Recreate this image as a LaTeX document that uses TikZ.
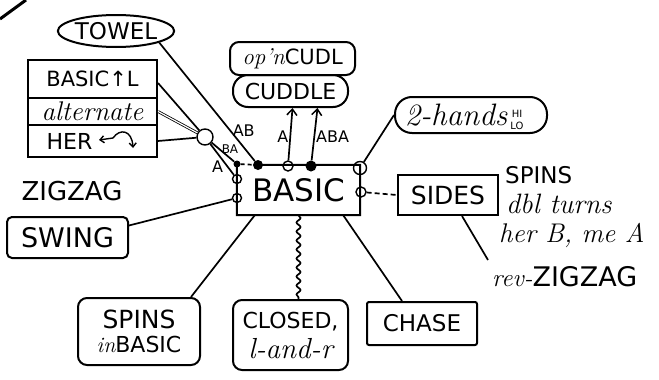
\documentclass[tikz,border=0pt]{standalone}
\usepackage{fontspec}
\newfontfamily\hand{DejaVu Sans}
\usetikzlibrary{shapes.geometric,arrows.meta,decorations.pathmorphing,calc}
\newcommand\fsz[1]{\fontsize{#1}{#1}\selectfont}
\newcommand\curs{\rmfamily\itshape}
\begin{document}
\begin{tikzpicture}[x=1pt,y=-1pt,
 boxr/.style={draw, line width=2pt, rounded corners=#1, inner sep=0pt, align=center},
 boxr/.default=6pt,
 sq/.style={draw, line width=2pt, inner sep=0pt, align=center},
 port/.style={circle, draw, line width=1.4pt, inner sep=0pt, minimum size=#1},
 port/.default=8pt,
 fdot/.style={circle, fill, inner sep=0pt, minimum size=#1},
 fdot/.default=9pt,
 conn/.style={line width=1.7pt},
 barb/.style={-{Straight Barb[length=6pt,width=10pt,line width=1.5pt]}},
 lab/.style={font=\hand\fsz{16}, inner sep=1pt},
 txt/.style={inner sep=0pt},
]
\useasboundingbox (0,0) rectangle (659,380);
% corner mark
\draw[line width=3pt] (0,19) -- (26,0);
% nodes
\node[ellipse, draw, line width=2pt, minimum width=113pt, minimum height=32pt, inner sep=0pt, font=\hand\fsz{23}] (towel) at (116,31) {TOWEL};
\node[boxr=9pt, minimum width=125pt, minimum height=33pt, font=\hand\fsz{21}] (opencudl) at (292.5,58.5) {{\curs\fsz{23}op'n}CUDL};
\node[boxr=15pt, minimum width=115pt, minimum height=32pt, font=\hand\fsz{22}] (cuddle) at (290.5,91) {CUDDLE};
\node[sq, minimum width=129pt, minimum height=38pt, font=\hand\fsz{21}] (stA) at (92.5,79) {BASIC↑L};
\node[sq, minimum width=129pt, minimum height=27pt, font=\curs\fsz{27}] (stB) at (92.5,111.5) {alternate};
\node[sq, minimum width=129pt, minimum height=32pt, font=\hand\fsz{22}] (stC) at (92.5,141) {HER\hspace*{46pt}};
\draw[line width=1.4pt, {Straight Barb[length=4pt,width=7pt]}-{Straight Barb[length=4pt,width=7pt]}] (99,140) -- (113,138) .. controls (120,128) and (132,130) .. (133,148);
\node[boxr=17pt, minimum width=152pt, minimum height=36pt, font=\curs\fsz{31}] (twohands) at (471,115) {2-hands\hspace*{30pt}};
\node[txt, align=center, font=\hand\fontsize{10}{12}\selectfont] (hilo) at (517,120) {HI\\LO};
\node[sq, minimum width=100pt, minimum height=40pt, font=\hand\fsz{25}] (sides) at (448,195) {SIDES};
\node[minimum width=123pt, minimum height=50pt, inner sep=0pt, font=\hand\fsz{31}] (basic) at (298.5,190) {BASIC};
\node[boxr=5pt, minimum width=121pt, minimum height=41pt, font=\hand\fsz{27}] (swing) at (67.5,237.5) {SWING};
\node[txt, font=\hand\fsz{26}] (zigzag) at (72,191) {ZIGZAG};
\node[boxr=9pt, minimum width=122pt, minimum height=67pt, font=\hand\fontsize{25}{24}\selectfont] (spinsb) at (139,331.5) {SPINS\\{\fsz{22}{\curs in}BASIC}};
\node[boxr=9pt, minimum width=115pt, minimum height=70pt, font=\hand\fontsize{22}{30}\selectfont] (closed) at (290.5,335) {CLOSED,\\{\curs\fontsize{29}{30}\selectfont l-and-r}};
\node[sq, rounded corners=2pt, minimum width=110pt, minimum height=43pt, font=\hand\fsz{23}] (chase) at (422,323.5) {CHASE};
\node[txt, anchor=west, font=\hand\fsz{23}] (spinsr) at (505,175) {SPINS};
\node[txt, anchor=west, font=\curs\fsz{28}] (dbl) at (506,204) {dbl turns};
\node[txt, anchor=west, font=\curs\fsz{27}] (herb) at (499,235) {her B, me A};
\node[txt, anchor=west, font=\hand\fsz{27}] (revzz) at (492,277) {{\curs\fsz{25}rev-}ZIGZAG};
% ports
\node[port=16pt] (c0) at (205,137) {};
\node[fdot=7pt] (p1) at (237,164) {};
\node[fdot=10pt] (p2) at (258,165) {};
\node[port=10pt] (p4) at (288,166) {};
\node[fdot=11pt] (p5) at (311,166) {};
\node[port=13pt] (p6) at (360,168) {};
\node[port=10pt] (p7) at (361,192) {};
\node[port=9pt] (p3) at (237,179) {};
\node[port=9pt] (p8) at (237,198) {};
% BASIC outline
\draw[line width=2pt] (p2.center) -- (basic.north east) -- (basic.south east) -- (basic.south west) -- (basic.north west);
\draw[conn, dash pattern=on 4pt off 3pt] (p1) -- (p2);
% connectors
\draw[conn] (towel.-15) -- (p2) node[lab, pos=0.74, right=1pt] {AB};
\draw[conn] ($(stA.east)+(0,4)$) -- (c0);
\draw[double, double distance=1.2pt, line width=0.8pt] (stB.east) -- (c0);
\draw[conn] (stC.east) -- (c0);
\draw[conn] (c0) -- (p1) node[lab, font=\hand\fsz{12}, pos=0.5, above right=-3pt] {BA};
\draw[conn] (c0) -- (p3) node[lab, pos=0.75, left=3pt] {A};
\draw[conn, barb] (p4) -- ($(cuddle.south)+(2,0)$) node[lab, pos=0.45, left] {A};
\draw[conn, barb] (p5) -- ($(cuddle.south)+(27,0)$) node[lab, pos=0.45, right] {ABA};
\draw[conn] (p6) -- (twohands.west);
\draw[conn, dash pattern=on 5pt off 3pt] (p7) -- (sides.west);
\draw[conn] ($(swing.east)+(0,-12)$) -- (p8);
\draw[conn] ($(basic.south west)+(18,0)$) -- ($(spinsb.north east)+(-10,0)$);
\draw[conn, decorate, decoration={snake, amplitude=2pt, segment length=9pt}] (basic.south) -- ($(closed.north)+(8,0)$);
\draw[conn] ($(basic.south east)+(-17,0)$) -- ($(chase.north)+(-20,0)$);
\coordinate (revend) at (488,260);
\draw[conn] ($(sides.south)+(14,0)$) -- (revend);
\end{tikzpicture}
\end{document}
